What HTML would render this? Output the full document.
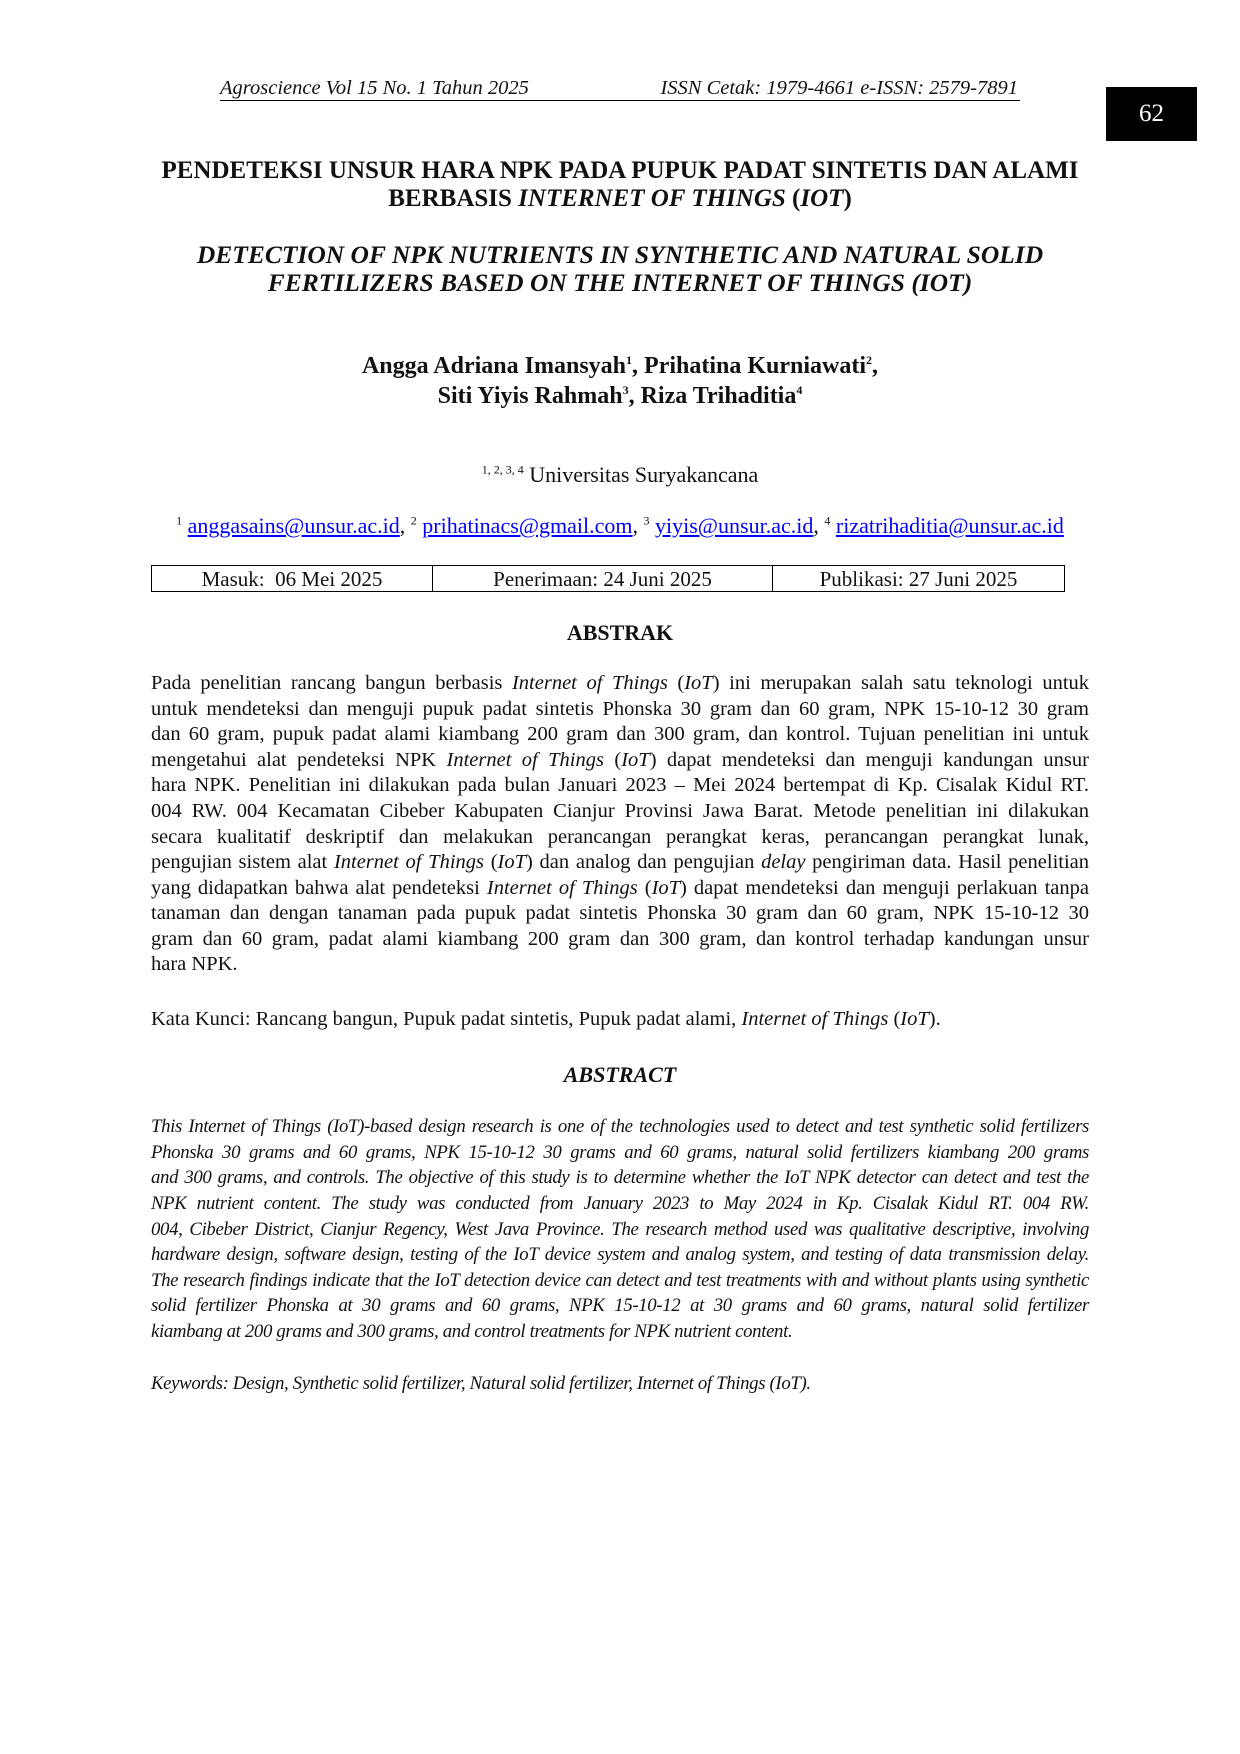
<!DOCTYPE html>
<html><head><meta charset="utf-8">
<style>
body{margin:0;background:#fff;}
.pg{position:relative;width:1240px;height:1754px;background:#fff;font-family:"Liberation Serif",serif;color:#111;}
.a{position:absolute;white-space:nowrap;}
.c{left:0;width:1240px;text-align:center;}
.hdr{left:220px;top:76px;width:800px;font-style:italic;font-size:20.5px;border-bottom:1.5px solid #000;line-height:24px;}
.pbox{left:1106px;top:87px;width:91px;height:54px;background:#000;color:#fff;font-size:25px;text-align:center;line-height:54px;}
.t{font-weight:bold;font-size:25px;}
.ln{position:absolute;left:151px;width:938px;text-align:justify;text-align-last:justify;white-space:nowrap;font-size:20.5px;}
.en{font-style:italic;font-size:18.8px;letter-spacing:-0.35px;}
.last{text-align-last:left;}
table{position:absolute;left:151px;top:565px;width:914px;height:27px;border-collapse:collapse;font-size:21px;}
td{border:1.5px solid #000;text-align:center;padding:0;line-height:24px;}
a{color:#00f;text-decoration:underline;}
</style></head><body><div class="pg">
<div class="a hdr"><span>Agroscience Vol 15 No. 1 Tahun 2025</span><span style="position:absolute;right:2px">ISSN Cetak: 1979-4661 e-ISSN: 2579-7891</span></div>
<div class="a pbox">62</div>
<div class="a c t" style="top:157px">PENDETEKSI UNSUR HARA NPK PADA PUPUK PADAT SINTETIS DAN ALAMI</div>
<div class="a c t" style="top:185px">BERBASIS <i>INTERNET OF THINGS</i> (<i>IOT</i>)</div>
<div class="a c t" style="top:240px;font-style:italic;font-size:25.5px">DETECTION OF NPK NUTRIENTS IN SYNTHETIC AND NATURAL SOLID</div>
<div class="a c t" style="top:268px;font-style:italic;font-size:25.5px">FERTILIZERS BASED ON THE INTERNET OF THINGS (IOT)</div>
<div class="a c t" style="top:353px;font-size:24px">Angga Adriana Imansyah<sup style="font-size:12px">1</sup>, Prihatina Kurniawati<sup style="font-size:12px">2</sup>,</div>
<div class="a c t" style="top:383px;font-size:24px">Siti Yiyis Rahmah<sup style="font-size:12px">3</sup>, Riza Trihaditia<sup style="font-size:12px">4</sup></div>
<div class="a c" style="top:462px;font-size:22px"><sup style="font-size:12px">1, 2, 3, 4</sup> Universitas Suryakancana</div>
<div class="a c" style="top:513px;font-size:22px"><sup style="font-size:12px">1</sup> <a>anggasains@unsur.ac.id</a>, <sup style="font-size:12px">2</sup> <a>prihatinacs@gmail.com</a>, <sup style="font-size:12px">3</sup> <a>yiyis@unsur.ac.id</a>, <sup style="font-size:12px">4</sup> <a>rizatrihaditia@unsur.ac.id</a></div>
<table><tr><td style="width:280px">Masuk:&nbsp; 06 Mei 2025</td><td style="width:339px">Penerimaan: 24 Juni 2025</td><td>Publikasi: 27 Juni 2025</td></tr></table>
<div class="a c" style="top:620px;font-weight:bold;font-size:22px">ABSTRAK</div>

<div class="ln" style="top:672px">Pada penelitian rancang bangun berbasis <i>Internet of Things</i> (<i>IoT</i>) ini merupakan salah satu teknologi untuk</div>
<div class="ln" style="top:698px">untuk mendeteksi dan menguji pupuk padat sintetis Phonska 30 gram dan 60 gram, NPK 15-10-12 30 gram</div>
<div class="ln" style="top:723px">dan 60 gram, pupuk padat alami kiambang 200 gram dan 300 gram, dan kontrol. Tujuan penelitian ini untuk</div>
<div class="ln" style="top:749px">mengetahui alat pendeteksi NPK <i>Internet of Things</i> (<i>IoT</i>) dapat mendeteksi dan menguji kandungan unsur</div>
<div class="ln" style="top:774px">hara NPK. Penelitian ini dilakukan pada bulan Januari 2023 – Mei 2024 bertempat di Kp. Cisalak Kidul RT.</div>
<div class="ln" style="top:800px">004 RW. 004 Kecamatan Cibeber Kabupaten Cianjur Provinsi Jawa Barat. Metode penelitian ini dilakukan</div>
<div class="ln" style="top:826px">secara kualitatif deskriptif dan melakukan perancangan perangkat keras, perancangan perangkat lunak,</div>
<div class="ln" style="top:851px">pengujian sistem alat <i>Internet of Things</i> (<i>IoT</i>) dan analog dan pengujian <i>delay</i> pengiriman data. Hasil penelitian</div>
<div class="ln" style="top:877px">yang didapatkan bahwa alat pendeteksi <i>Internet of Things</i> (<i>IoT</i>) dapat mendeteksi dan menguji perlakuan tanpa</div>
<div class="ln" style="top:902px">tanaman dan dengan tanaman pada pupuk padat sintetis Phonska 30 gram dan 60 gram, NPK 15-10-12 30</div>
<div class="ln" style="top:928px">gram dan 60 gram, padat alami kiambang 200 gram dan 300 gram, dan kontrol terhadap kandungan unsur</div>
<div class="ln last" style="top:953px">hara NPK.</div>
<div class="ln last" style="top:1008px">Kata Kunci: Rancang bangun, Pupuk padat sintetis, Pupuk padat alami, <i>Internet of Things</i> (<i>IoT</i>).</div>

<div class="a c" style="top:1062px;font-weight:bold;font-style:italic;font-size:22px">ABSTRACT</div>

<div class="ln en" style="top:1116px">This Internet of Things (IoT)-based design research is one of the technologies used to detect and test synthetic solid fertilizers</div>
<div class="ln en" style="top:1142px">Phonska 30 grams and 60 grams, NPK 15-10-12 30 grams and 60 grams, natural solid fertilizers kiambang 200 grams</div>
<div class="ln en" style="top:1167px">and 300 grams, and controls. The objective of this study is to determine whether the IoT NPK detector can detect and test the</div>
<div class="ln en" style="top:1193px">NPK nutrient content. The study was conducted from January 2023 to May 2024 in Kp. Cisalak Kidul RT. 004 RW.</div>
<div class="ln en" style="top:1219px">004, Cibeber District, Cianjur Regency, West Java Province. The research method used was qualitative descriptive, involving</div>
<div class="ln en" style="top:1244px">hardware design, software design, testing of the IoT device system and analog system, and testing of data transmission delay.</div>
<div class="ln en" style="top:1270px">The research findings indicate that the IoT detection device can detect and test treatments with and without plants using synthetic</div>
<div class="ln en" style="top:1295px">solid fertilizer Phonska at 30 grams and 60 grams, NPK 15-10-12 at 30 grams and 60 grams, natural solid fertilizer</div>
<div class="ln en last" style="top:1321px">kiambang at 200 grams and 300 grams, and control treatments for NPK nutrient content.</div>
<div class="ln en last" style="top:1373px">Keywords: Design, Synthetic solid fertilizer, Natural solid fertilizer, Internet of Things (IoT).</div>
</div></body></html>
